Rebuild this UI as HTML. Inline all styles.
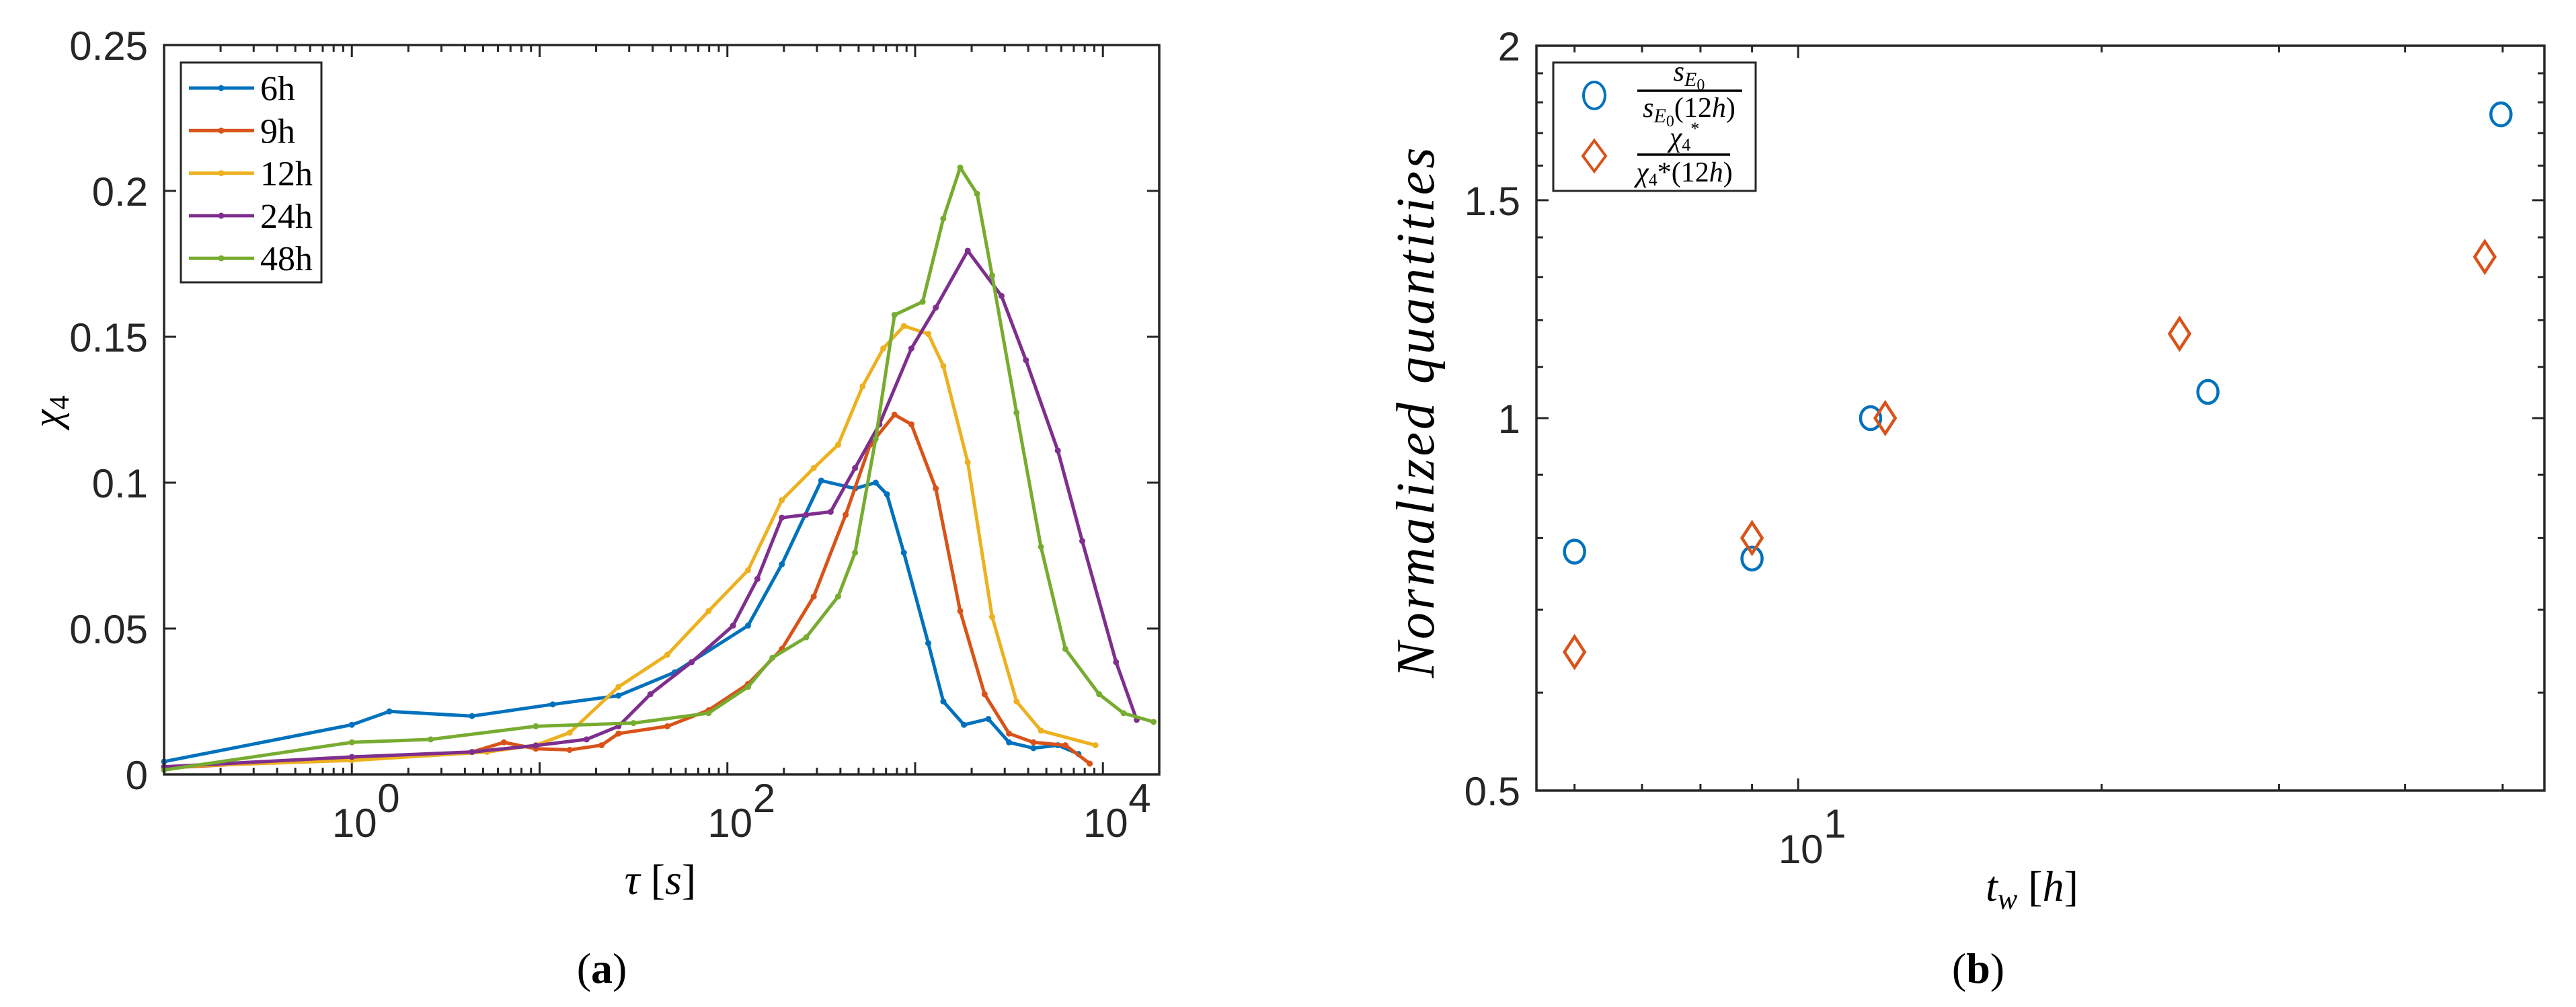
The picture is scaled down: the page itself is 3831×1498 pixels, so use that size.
<!DOCTYPE html>
<html><head><meta charset="utf-8"><style>
html,body{margin:0;padding:0;background:#fff;}
svg{display:block;}
.tk{font-family:"Liberation Sans",sans-serif;font-size:60px;fill:#262626;}
.sr{font-family:"Liberation Serif",serif;fill:#000;}
</style></head><body>
<svg id="fig" width="3831" height="1498" viewBox="0 0 3831 1498" xmlns="http://www.w3.org/2000/svg">
<g id="pa"></g>
<g id="pb"></g>
</svg>
<script>
// ---------- Chart (a) data: log10(tau) and chi4 ----------
const seriesNames = ["6h","9h","12h","24h","48h"];
const seriesColors = ["#0072BD","#D95319","#EDB120","#7E2F8E","#77AC30"];
const logTau6 = [-1.0,0,0.2,0.64,1.07,1.42,1.72,2.11,2.29,2.5,2.68,2.79,2.85,2.94,3.07,3.15,3.26,3.39,3.5,3.63,3.76,3.87];
const chi6 = [0.0044,0.017,0.0216,0.020,0.024,0.027,0.035,0.051,0.072,0.1007,0.098,0.100,0.096,0.076,0.045,0.025,0.017,0.019,0.011,0.009,0.010,0.007];
const logTau9 = [-1.0,0,0.64,0.81,0.98,1.16,1.33,1.42,1.68,1.9,2.11,2.29,2.46,2.63,2.76,2.89,2.98,3.11,3.24,3.37,3.5,3.63,3.8,3.93];
const chi9 = [0.0022,0.0055,0.0077,0.011,0.0088,0.0084,0.010,0.014,0.0165,0.022,0.031,0.043,0.061,0.089,0.113,0.1233,0.12,0.098,0.056,0.0275,0.014,0.011,0.010,0.0037];
const logTau12 = [-1.0,0,0.72,0.98,1.16,1.42,1.68,1.9,2.11,2.29,2.46,2.59,2.72,2.83,2.94,3.07,3.15,3.28,3.41,3.54,3.67,3.96];
const chi12 = [0.0026,0.0048,0.0077,0.010,0.0143,0.030,0.041,0.056,0.070,0.094,0.105,0.113,0.133,0.146,0.1537,0.151,0.140,0.107,0.054,0.025,0.015,0.010];
const logTau24 = [-1.0,0,0.64,0.98,1.25,1.42,1.59,1.81,2.03,2.16,2.29,2.42,2.55,2.68,2.81,2.98,3.11,3.28,3.46,3.59,3.76,3.89,4.07,4.18];
const chi24 = [0.0026,0.006,0.0077,0.0099,0.012,0.0165,0.0275,0.0385,0.051,0.067,0.088,0.089,0.090,0.105,0.12,0.146,0.16,0.1795,0.164,0.142,0.111,0.080,0.0385,0.0187];
const logTau48 = [-1.0,0,0.42,0.98,1.5,1.9,2.11,2.24,2.42,2.59,2.68,2.79,2.89,3.04,3.15,3.24,3.33,3.41,3.54,3.67,3.8,3.98,4.11,4.27];
const chi48 = [0.0015,0.011,0.012,0.0165,0.0176,0.021,0.030,0.040,0.047,0.061,0.076,0.115,0.1575,0.162,0.1905,0.208,0.199,0.171,0.124,0.078,0.043,0.0275,0.021,0.018];
const yTicksA = [0,0.05,0.1,0.15,0.2,0.25];
const yTickLabelsA = ["0","0.05","0.1","0.15","0.2","0.25"];
const xMajorExpA = [0,2,4];

// ---------- Chart (b) data ----------
const twCircle = [6,9,11.8,25.5,49.8];
const ratioCircle = [0.78,0.77,1.0,1.05,1.76];
const twDiamond = [6,9,12.2,23.9,48];
const ratioDiamond = [0.647,0.80,1.0,1.17,1.35];
const yTicksB = [0.5,1,1.5,2];
const yTickLabelsB = ["0.5","1","1.5","2"];

const NS="http://www.w3.org/2000/svg";
function mk(tag,attrs,parent,text){const e=document.createElementNS(NS,tag);for(const k in attrs)e.setAttribute(k,attrs[k]);if(text!==undefined)e.textContent=text;parent.appendChild(e);return e;}

// ===== Chart A =====
const A={l:244,r:1724,t:67,b:1152,xmin:-1.0,xmax:4.3,ymin:0,ymax:0.25};
const xA=v=>A.l+(v-A.xmin)/(A.xmax-A.xmin)*(A.r-A.l);
const yA=v=>A.b-(v-A.ymin)/(A.ymax-A.ymin)*(A.b-A.t);
const ga=document.getElementById('pa');
for(let d=-1; d<=4; d++){
  for(let m=1;m<=9;m++){
    const lv=d+Math.log10(m); if(lv<A.xmin||lv>A.xmax) continue;
    const L=m===1?18:10, x=xA(lv);
    let t=mk('line',{x1:x,x2:x,y1:A.b,y2:A.b-L,stroke:'#262626','stroke-width':3},ga);
    
    
    t=mk('line',{x1:x,x2:x,y1:A.t,y2:A.t+L,stroke:'#262626','stroke-width':3},ga);
    
    
  }
}
yTicksA.forEach((v,i)=>{
  const y=yA(v);
  let t=mk('line',{x1:A.l,x2:A.l+18,y1:y,y2:y,stroke:'#262626','stroke-width':3},ga);
  
  
  t=mk('line',{x1:A.r,x2:A.r-18,y1:y,y2:y,stroke:'#262626','stroke-width':3},ga);
  
  
  const lb=mk('text',{x:A.l-24,y:y+22,'text-anchor':'end',class:'tk'},ga,yTickLabelsA[i]);
  
  
});
xMajorExpA.forEach(e=>{
  const x=xA(e);
  const lb=mk('text',{x:x+4,y:1245,'text-anchor':'middle',class:'tk'},ga,'10');
  
  
  const sp=mk('text',{x:x+38,y:1208,'text-anchor':'start',class:'tk','font-size':'42'},ga,String(e));
  
  
});
const xsA=[logTau6,logTau9,logTau12,logTau24,logTau48];
const ysA=[chi6,chi9,chi12,chi24,chi48];
xsA.forEach((xs,i)=>{
  const pts=xs.map((v,j)=>xA(v).toFixed(1)+','+yA(ysA[i][j]).toFixed(1)).join(' ');
  const pl=mk('polyline',{points:pts,fill:'none',stroke:seriesColors[i],'stroke-width':5,'stroke-linejoin':'round'},ga);
  
  
  xs.forEach((v,j)=>{
    const c=mk('circle',{cx:xA(v),cy:yA(ysA[i][j]),r:4.5,fill:seriesColors[i]},ga);
    
    
  });
});
let fa=mk('rect',{x:A.l,y:A.t,width:A.r-A.l,height:A.b-A.t,fill:'none',stroke:'#262626','stroke-width':3.5},ga);


const lgA=mk('g',{},ga);


mk('rect',{x:269,y:93,width:209,height:327,fill:'#fff',stroke:'#262626','stroke-width':3},lgA);
seriesNames.forEach((n,i)=>{
  const y=131+i*63.3;
  const en=mk('g',{},lgA);
  
  
  mk('line',{x1:281,x2:378,y1:y,y2:y,stroke:seriesColors[i],'stroke-width':5},en);
  mk('circle',{cx:329,cy:y,r:4.5,fill:seriesColors[i]},en);
  mk('text',{x:387,y:y+18,class:'sr','font-size':'52'},en,n);
});
let t1=mk('text',{x:0,y:0,class:'sr','font-size':'60','font-style':'italic','text-anchor':'middle',transform:'translate(90,612) rotate(-90)'},ga);


mk('tspan',{},t1,'χ');mk('tspan',{dy:12,'font-size':'42','font-style':'normal'},t1,'4');
let t2=mk('text',{x:982,y:1330,class:'sr','font-size':'64','text-anchor':'middle'},ga);


mk('tspan',{'font-style':'italic'},t2,'τ ');mk('tspan',{},t2,'[');mk('tspan',{'font-style':'italic'},t2,'s');mk('tspan',{},t2,']');
let c1=mk('text',{x:895,y:1462,class:'sr','font-size':'64','text-anchor':'middle'},ga);


mk('tspan',{},c1,'(');mk('tspan',{'font-weight':'bold'},c1,'a');mk('tspan',{},c1,')');

// ===== Chart B =====
const B={l:2285,r:3784,t:68,b:1176,xmin:Math.log10(5.5),xmax:Math.log10(55),ymin:Math.log10(0.5),ymax:Math.log10(2)};
const xB=v=>B.l+(Math.log10(v)-B.xmin)/(B.xmax-B.xmin)*(B.r-B.l);
const yB=v=>B.b-(Math.log10(v)-B.ymin)/(B.ymax-B.ymin)*(B.b-B.t);
const gb=document.getElementById('pb');
[6,7,8,9,10,20,30,40,50].forEach(v=>{
  const L=v===10?18:10, x=xB(v);
  let t=mk('line',{x1:x,x2:x,y1:B.b,y2:B.b-L,stroke:'#262626','stroke-width':3},gb);
  
  
  t=mk('line',{x1:x,x2:x,y1:B.t,y2:B.t+L,stroke:'#262626','stroke-width':3},gb);
  
  
});
[0.5,0.6,0.7,0.8,0.9,1,1.1,1.2,1.3,1.4,1.5,1.6,1.7,1.8,1.9,2].forEach(v=>{
  const major=yTicksB.includes(v), L=major?18:10, y=yB(v);
  let t=mk('line',{x1:B.l,x2:B.l+L,y1:y,y2:y,stroke:'#262626','stroke-width':3},gb);
  
  
  t=mk('line',{x1:B.r,x2:B.r-L,y1:y,y2:y,stroke:'#262626','stroke-width':3},gb);
  
  
});
yTicksB.forEach((v,i)=>{
  const lb=mk('text',{x:B.l-24,y:yB(v)+22,'text-anchor':'end',class:'tk'},gb,yTickLabelsB[i]);
  
  
});
let xl=mk('text',{x:xB(10)+4,y:1284,'text-anchor':'middle',class:'tk'},gb,'10');


let xe=mk('text',{x:xB(10)+38,y:1246,class:'tk','font-size':'42'},gb,'1');


twCircle.forEach((v,i)=>{
  const c=mk('ellipse',{cx:xB(v),cy:yB(ratioCircle[i]),rx:15,ry:17,fill:'none',stroke:'#0072BD','stroke-width':4.5},gb);
  
  
});
twDiamond.forEach((v,i)=>{
  const x=xB(v),y=yB(ratioDiamond[i]);
  const d=mk('polygon',{points:`${x},${y-23} ${x+15},${y} ${x},${y+23} ${x-15},${y}`,fill:'none',stroke:'#D95319','stroke-width':4.5},gb);
  
  
});
let fb=mk('rect',{x:B.l,y:B.t,width:B.r-B.l,height:B.b-B.t,fill:'none',stroke:'#262626','stroke-width':3.5},gb);


const lgB=mk('g',{},gb);


mk('rect',{x:2310,y:93,width:301,height:191,fill:'#fff',stroke:'#262626','stroke-width':3},lgB);
const e1=mk('g',{},lgB);


mk('ellipse',{cx:2371,cy:142,rx:16,ry:20,fill:'none',stroke:'#0072BD','stroke-width':4},e1);
mk('line',{x1:2435,x2:2591,y1:135,y2:135,stroke:'#000','stroke-width':3.5},e1);
let n1=mk('text',{x:2512,y:120,class:'sr','font-size':'42','text-anchor':'middle','font-style':'italic'},e1);
mk('tspan',{},n1,'s');mk('tspan',{dy:8,'font-size':'30'},n1,'E');mk('tspan',{dy:6,'font-size':'24','font-style':'normal'},n1,'0');
let d1=mk('text',{x:2512,y:174,class:'sr','font-size':'42','text-anchor':'middle','font-style':'italic'},e1);
mk('tspan',{},d1,'s');mk('tspan',{dy:8,'font-size':'30'},d1,'E');mk('tspan',{dy:6,'font-size':'24','font-style':'normal'},d1,'0');mk('tspan',{dy:-14,'font-style':'normal'},d1,'(12');mk('tspan',{},d1,'h');mk('tspan',{'font-style':'normal'},d1,')');
const e2=mk('g',{},lgB);


mk('polygon',{points:'2371,209 2388,232 2371,255 2354,232',fill:'none',stroke:'#D95319','stroke-width':4},e2);
mk('line',{x1:2435,x2:2573,y1:230,y2:230,stroke:'#000','stroke-width':3.5},e2);
let n2=mk('text',{x:2505,y:218,class:'sr','font-size':'42','text-anchor':'middle','font-style':'italic'},e2);
mk('tspan',{},n2,'χ');mk('tspan',{dy:6,'font-size':'26','font-style':'normal'},n2,'4');mk('tspan',{dy:-24,'font-size':'26','font-style':'normal'},n2,'*');
let d2=mk('text',{x:2505,y:270,class:'sr','font-size':'42','text-anchor':'middle','font-style':'italic'},e2);
mk('tspan',{},d2,'χ');mk('tspan',{dy:6,'font-size':'26','font-style':'normal'},d2,'4');mk('tspan',{dy:-6,'font-style':'normal'},d2,'*(12');mk('tspan',{},d2,'h');mk('tspan',{'font-style':'normal'},d2,')');
let yb=mk('text',{x:0,y:0,class:'sr','font-size':'80','font-style':'italic','text-anchor':'middle','letter-spacing':'4',transform:'translate(2132,612) rotate(-90)'},gb,'Normalized  quantities');


yb.setAttribute('xml:space','preserve');
let xb=mk('text',{x:3022,y:1340,class:'sr','font-size':'64','text-anchor':'middle'},gb);


mk('tspan',{'font-style':'italic'},xb,'t');mk('tspan',{dy:12,'font-size':'44','font-style':'italic'},xb,'w');mk('tspan',{dy:-12},xb,'  [');mk('tspan',{'font-style':'italic'},xb,'h');mk('tspan',{},xb,']');
let c2=mk('text',{x:2942,y:1462,class:'sr','font-size':'64','text-anchor':'middle'},gb);


mk('tspan',{},c2,'(');mk('tspan',{'font-weight':'bold'},c2,'b');mk('tspan',{},c2,')');
</script>
</body></html>
